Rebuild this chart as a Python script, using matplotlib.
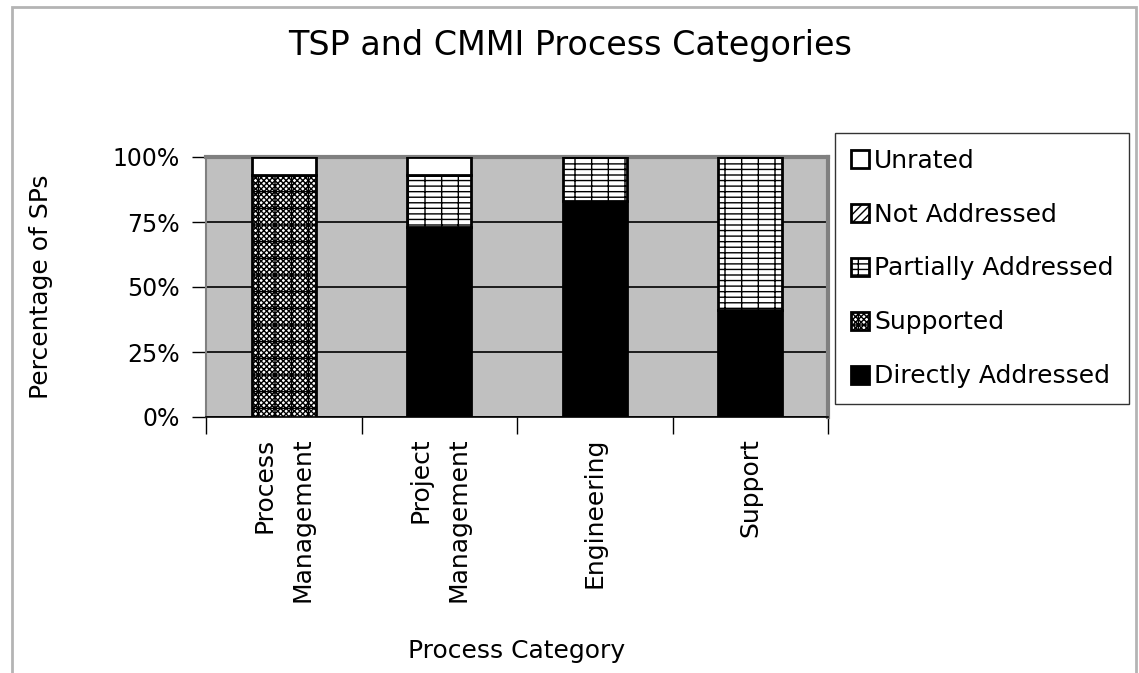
import matplotlib
matplotlib.use("Agg")
import matplotlib.pyplot as plt
from matplotlib.patches import Rectangle
import numpy as np

categories = ["Process\nManagement", "Project\nManagement", "Engineering", "Support"]
series_names = ["Directly Addressed", "Supported", "Partially Addressed", "Not Addressed", "Unrated"]
directly_addressed = [0, 73, 83, 41]
supported = [93, 0, 0, 0]
partially_addressed = [0, 20, 17, 59]
not_addressed = [0, 0, 0, 0]
unrated = [7, 7, 0, 0]
y_ticks = [0, 25, 50, 75, 100]
y_tick_labels = ["0%", "25%", "50%", "75%", "100%"]

series_values = [directly_addressed, supported, partially_addressed, not_addressed, unrated]
styles = {
    "Directly Addressed": dict(facecolor="black", hatch=None),
    "Supported": dict(facecolor="white", hatch="xxxxxx+"),
    "Partially Addressed": dict(facecolor="white", hatch="---|"),
    "Not Addressed": dict(facecolor="white", hatch="////"),
    "Unrated": dict(facecolor="white", hatch=None),
}

plt.rcParams["hatch.linewidth"] = 1.0
plt.rcParams["font.family"] = ["DejaVu Sans"]

W, H = 1139, 673
fig = plt.figure(figsize=(W / 100, H / 100), dpi=100)

# figure border
fig.patches.append(Rectangle((12 / W, -0.05), (1136 - 12) / W, 1 - 7 / H + 0.05,
                             transform=fig.transFigure, fill=False,
                             edgecolor="#b4b4b4", linewidth=2))

ax = fig.add_axes([206 / W, 1 - 417 / H, (828 - 206) / W, 260 / H])
ax.set_facecolor("#c0c0c0")

x = np.arange(len(categories))
bottom = np.zeros(len(categories))
handles = {}
for name, vals in zip(series_names, series_values):
    st = styles[name]
    bars = ax.bar(x, vals, 0.41, bottom=bottom, facecolor=st["facecolor"],
                  hatch=st["hatch"], edgecolor="black", linewidth=2, zorder=3,
                  label=name)
    handles[name] = bars
    bottom += np.array(vals)

ax.set_xlim(-0.5, len(categories) - 0.5)
ax.set_ylim(0, 100)
ax.set_yticks(y_ticks)
ax.set_yticklabels(y_tick_labels, fontsize=17)
ax.yaxis.grid(True, color="black", linewidth=1.2, zorder=1)
ax.set_axisbelow(True)

ax.set_xticks(x)
ax.set_xticklabels(categories, rotation=90, fontsize=18, va="top", ha="center",
                   multialignment="right", linespacing=1.75)
ax.tick_params(axis="x", which="major", length=0, pad=15)
ax.set_xticks(np.arange(-0.5, len(categories)), minor=True)
ax.tick_params(axis="x", which="minor", length=12, width=1, direction="out")
ax.tick_params(axis="y", length=10, width=1, direction="out", pad=9)

for side in ["top", "right"]:
    ax.spines[side].set_color("#808080")
    ax.spines[side].set_linewidth(3)
ax.spines["left"].set_color("#808080")
ax.spines["left"].set_linewidth(1.5)
ax.spines["bottom"].set_color("black")
ax.spines["bottom"].set_linewidth(1.2)

ax.set_ylabel("Percentage of SPs", fontsize=18)
ax.yaxis.set_label_coords((53 - 206) / 622, 0.5)
ax.set_xlabel("Process Category", fontsize=18)
ax.xaxis.set_label_coords(0.5, (417 - 639) / 260)

fig.text(570 / W, 1 - 45 / H, "TSP and CMMI Process Categories", fontsize=24,
         ha="center", va="center")

order = ["Unrated", "Not Addressed", "Partially Addressed", "Supported", "Directly Addressed"]
leg = fig.legend([handles[n] for n in order], order, loc="upper left",
                 bbox_to_anchor=(835 / W, 1 - 133 / H), fontsize=18,
                 frameon=True, fancybox=False, edgecolor="black",
                 handlelength=0.75, handleheight=0.75, handletextpad=0.2,
                 labelspacing=1.2, borderpad=0.62, borderaxespad=0)
leg.get_frame().set_linewidth(1.0)

fig.savefig("out.png", dpi=100, facecolor="white")
